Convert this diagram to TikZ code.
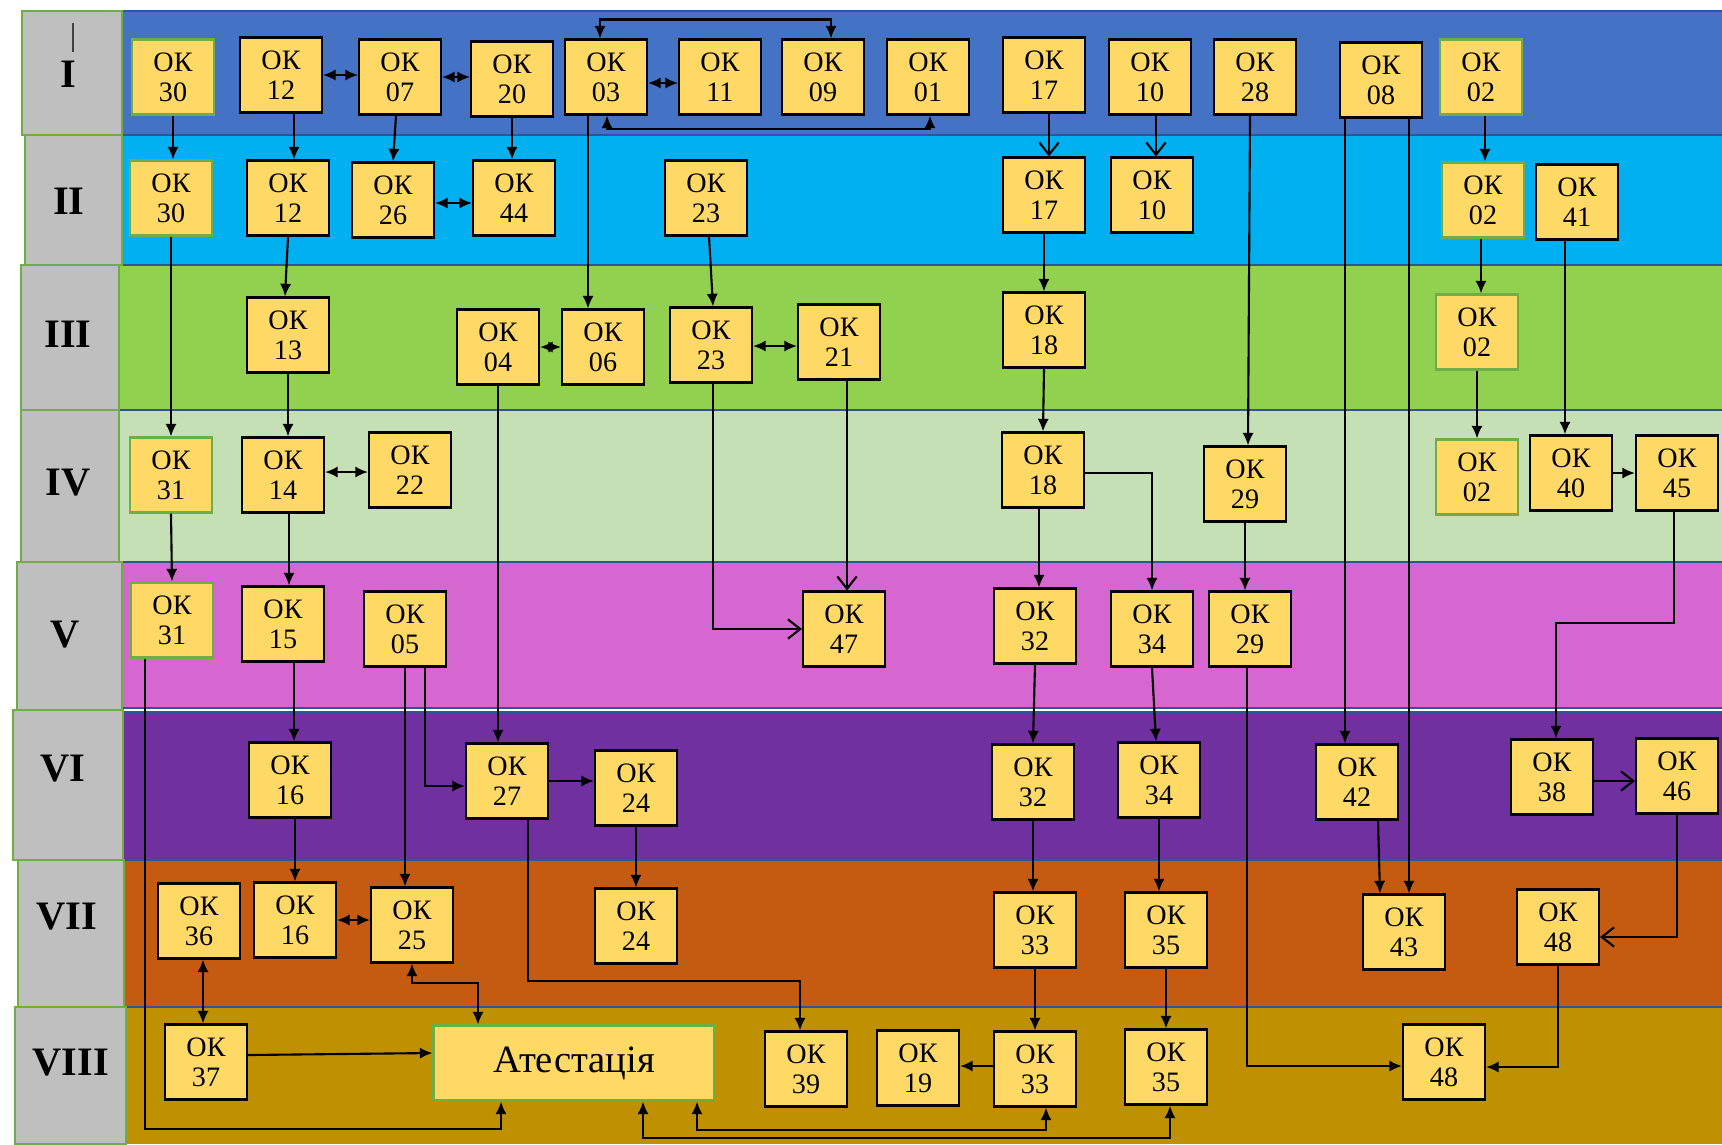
\documentclass[tikz,border=0pt]{standalone}
\usepackage{fontspec}
\setmainfont{Liberation Serif}
\usepackage{tikz}
\usetikzlibrary{arrows.meta,calc}
\definecolor{bandI}{HTML}{4472C4}
\definecolor{bandII}{HTML}{00B0F0}
\definecolor{bandIII}{HTML}{92D050}
\definecolor{bandIV}{HTML}{C5E0B4}
\definecolor{bandV}{HTML}{D666D0}
\definecolor{bandVI}{HTML}{7030A0}
\definecolor{bandVII}{HTML}{C55A11}
\definecolor{bandVIII}{HTML}{BF9000}
\definecolor{cellgray}{HTML}{BFBFBF}
\definecolor{okfill}{HTML}{FFD966}
\definecolor{okgreen}{HTML}{70AD47}
\definecolor{bandline}{HTML}{2F5597}
\tikzset{
  okbox/.style={draw=black, line width=0.6pt, fill=okfill, minimum width=8.2mm,
    minimum height=7.5mm, inner sep=0pt, align=center, font=\fontsize{8}{8.5}\selectfont},
  okgbox/.style={okbox, draw=okgreen},
  rowlbl/.style={font=\fontsize{11.5}{12}\selectfont\bfseries},
  con/.style={line width=0.6pt, -{Latex[length=3.6pt,width=3.2pt]}},
  dcon/.style={line width=0.6pt, {Latex[length=3.6pt,width=3.2pt]}-{Latex[length=3.6pt,width=3.2pt]}},
  ocon/.style={line width=0.6pt, -{Straight Barb[length=3.5pt,width=5.5pt]}}
}
\newcommand{\okrow}[2][okbox]{
  \foreach \nm/\x/\y/\lbl in {#2}{
    \node[#1] (\nm) at (\x,\y) {ОК\\\lbl};% one box per component
  }
}

\begin{document}
\begin{tikzpicture}[x=0.1mm,y=-0.1mm]
  \useasboundingbox (0,0) rectangle (1722,1144);
  \fill[white] (0,0) rectangle (1722,1144);

  % semester bands
  \foreach \tp/\bt/\cl in {11/135/bandI,135/265/bandII,265/410/bandIII,410/562/bandIV,
    562/710/bandV,710/860/bandVI,860/1007/bandVII,1007/1144/bandVIII}{
    \fill[\cl] (116,\tp) rectangle (1722,\bt);
  }
  \foreach \yy in {11,135,265,410,562,860,1007}{
    \draw[bandline,line width=0.5pt] (116,\yy) -- (1722,\yy);
  }
  \draw[bandline,line width=0.5pt] (116,708) -- (1722,708) (116,712) -- (1722,712);
  \draw[white,line width=0.8pt] (116,710) -- (1722,710);

  % grey column of semester numbers
  \foreach \tp/\bt/\lf/\rt in {11/135/22/122,135/265/25/122,265/410/21/119,410/562/21/119,
    562/710/17/122,710/860/13/123,860/1007/18/124,1007/1144/15/126}{
    \filldraw[fill=cellgray,draw=okgreen,line width=0.6pt] (\lf,\tp) rectangle (\rt,\bt);
  }
  \foreach \nm/\x/\y/\rn in {rI/68/74/I,rII/69/201/II,rIII/68/334/III,rIV/68/483/IV,
    rV/65/635/V,rVI/63/769/VI,rVII/67/917/VII,rVIII/71/1063/VIII}{
    \node[rowlbl] (\nm) at (\x,\y) {\rn};
  }
  \draw[black!75,line width=0.8pt] (73,23) -- (73,52);

  % components
  \okrow{a12/281/75/12,a07/400/77/07,a20/512/79/20,a03/606/77/03,a11/720/77/11,
    a09/823/77/09,a01/928/77/01,a17/1044/75/17,a10/1150/77/10,a28/1255/77/28,a08/1381/80/08}
  \okrow{b12/288/198/12,b26/393/200/26,b44/514/198/44,b23/706/198/23,b17/1044/195/17,
    b10/1152/195/10,b41/1577/202/41}
  \okrow{c13/288/335/13,c04/498/347/04,c06/603/347/06,c23/711/345/23,c21/839/342/21,
    c18/1044/330/18}
  \okrow{d14/283/475/14,d22/410/470/22,d18/1043/470/18,d29/1245/484/29,d40/1571/473/40,
    d45/1677/473/45}
  \okrow{e15/283/624/15,e05/405/629/05,e47/844/629/47,e32/1035/626/32,e34/1152/629/34,
    e29/1250/629/29}
  \okrow{f16/290/780/16,f27/507/781/27,f24/636/788/24,f32/1033/782/32,f34/1159/780/34,
    f42/1357/782/42,f38/1552/777/38,f46/1677/776/46}
  \okrow{g36/199/921/36,g16/295/920/16,g25/412/925/25,g24/636/926/24,g33/1035/930/33,
    g35/1166/930/35,g43/1404/932/43,g48/1558/927/48}
  \okrow{h37/206/1062/37,h39/806/1069/39,h19/918/1068/19,h33/1035/1069/33,h35/1166/1067/35,
    h48/1444/1062/48}
  \okrow[okgbox]{a30/173/77/30,a02/1481/77/02,b30/171/198/30,b02/1483/200/02,
    c02/1477/332/02,d31/171/475/31,d02/1477/477/02,e31/172/620/31}
  \node[okgbox,minimum width=28.1mm,font=\fontsize{11}{12}\selectfont] (att) at (574,1063) {Атестація};

  % semester I
  \draw[dcon] (a12.east) -- (a12.east -| a07.west);
  \draw[dcon] (a07.east) -- (a07.east -| a20.west);
  \draw[dcon] ([yshift=-0.6mm]a03.east) -- ([yshift=-0.6mm]a03.east -| a11.west);
  \draw[dcon] ([xshift=-0.6mm]a03.north) -- ++(0,-19) -| ([xshift=0.8mm]a09.north);
  \draw[dcon] ([xshift=0.1mm]a03.south) -- ++(0,13) -| ([xshift=0.2mm]a01.south);

  % semester I to II
  \draw[con] (a30.south) -- (a30.south |- b30.north);
  \draw[con] ([xshift=1.3mm]a12.south) -- ([xshift=1.3mm]a12.south |- b12.north);
  \draw[con] ([xshift=-0.4mm]a07.south) -- (b26.north);
  \draw[con] (a20.south) -- (a20.south |- b44.north);
  \draw[ocon] ([xshift=0.5mm]a17.south) -- ([xshift=0.5mm]a17.south |- b17.north);
  \draw[ocon] ([xshift=0.6mm]a10.south) -- ([xshift=0.6mm]a10.south |- b10.north);
  \draw[con] ([xshift=0.4mm]a02.south) -- ([xshift=0.4mm]a02.south |- b02.north);
  \draw[dcon] ([yshift=-0.3mm]b26.east) -- ([yshift=-0.3mm]b26.east -| b44.west);

  % long links from the first semesters
  \draw[con] ([xshift=-1.8mm]a03.south) -- ([xshift=-1.8mm]a03.south |- c06.north);
  \draw[con] ([xshift=0.3mm]b23.south) -- ([xshift=0.2mm]c23.north);
  \draw[con] (b17.south) -- (c18.north);
  \draw[con] (c18.south) -- (d18.north);
  \draw[con] ([xshift=-0.5mm]a28.south) -- ([xshift=0.3mm]d29.north);
  \draw[con] ([xshift=-3.6mm]a08.south) -- ([xshift=-3.6mm]a08.south |- f42.north);
  \draw[con] ([xshift=2.8mm]a08.south) -- ([xshift=2.8mm]a08.south |- g43.north);
  \draw[con] ([xshift=-0.2mm]b02.south) -- ([xshift=-0.2mm]b02.south |- c02.north);
  \draw[con] (c02.south) -- (c02.south |- d02.north);
  \draw[con] ([xshift=-1.2mm]b41.south) -- ([xshift=-1.2mm]b41.south |- d40.north);
  \draw[con] (d40.east) -- (d40.east -| d45.west);
  \draw[con] ([xshift=-0.3mm]d45.south) -- ++(0,111) -| ([xshift=0.4mm]f38.north);
  \draw[ocon] ([yshift=-0.4mm]f38.east) -- ([yshift=-0.4mm]f38.east -| f46.west);
  \draw[ocon] (f46.south) |- ([yshift=-1mm]g48.east);

  % semesters III and IV
  \draw[con] (b30.south) -- (b30.south |- d31.north);
  \draw[con] (b12.south) -- ([xshift=-0.3mm]c13.north);
  \draw[con] (c13.south) -- (c13.south |- d14.north);
  \draw[dcon] ([yshift=0.3mm]d14.east) -- ([yshift=0.3mm]d14.east -| d22.west);
  \draw[dcon] (c04.east) -- (c04.east -| c06.west);
  \draw[dcon] ([yshift=-0.1mm]c23.east) -- ([yshift=-0.1mm]c23.east -| c21.west);
  \draw[con] (c04.south) -- (c04.south |- f27.north);
  \draw[con] (d31.south) -- (e31.north);
  \draw[con] ([xshift=0.6mm]d14.south) -- ([xshift=0.6mm]d14.south |- e15.north);

  % semester V
  \draw[ocon] ([xshift=0.2mm]c23.south) |- (e47.west);
  \draw[ocon] ([xshift=0.8mm]c21.south) -- ([xshift=0.8mm]c21.south |- e47.north);
  \draw[con] ([xshift=-0.4mm]d18.south) -- ([xshift=-0.4mm]d18.south |- e32.north);
  \draw[con] ([yshift=-0.3mm]d18.east) -| (e34.north);
  \draw[con] (d29.south) -- (d29.south |- e29.north);
  \draw[con] ([xshift=-2.7mm]e31.south) -- ++(0,470) -| ([xshift=-7.3mm]att.south);
  \draw[con] ([xshift=1.1mm]e15.south) -- ([xshift=1.1mm]e15.south |- f16.north);
  \draw[con] (e05.south) -- (e05.south |- g25.north);
  \draw[con] ([xshift=2mm]e05.south) |- ([yshift=-0.5mm]f27.west);
  \draw[con] (e32.south) -- (f32.north);
  \draw[con] (e34.south) -- ([xshift=-0.3mm]f34.north);
  \draw[con] ([xshift=-0.3mm]e29.south) |- ([yshift=-0.4mm]h48.west);

  % semester VI
  \draw[con] (f27.east) -- (f27.east -| f24.west);
  \draw[con] ([xshift=2.1mm]f27.south) -- ++(0,161) -| ([xshift=-0.6mm]h39.north);
  \draw[con] ([xshift=0.5mm]f16.south) -- ([xshift=0.5mm]f16.south |- g16.north);
  \draw[con] (f24.south) -- (g24.north);
  \draw[con] (f32.south) -- (f32.south |- g33.north);
  \draw[con] (f34.south) -- (f34.south |- g35.north);
  \draw[con] ([xshift=2.1mm]f42.south) -- ([xshift=-2.4mm]g43.north);

  % semesters VII and VIII
  \draw[dcon] (g16.east) -- (g16.east -| g25.west);
  \draw[dcon] ([xshift=0.4mm]g36.south) -- ([xshift=0.4mm]g36.south |- h37.north);
  \draw[dcon] (g25.south) -- ++(0,19.5) -| ([xshift=-9.6mm]att.north);
  \draw[con] (g33.south) -- (h33.north);
  \draw[con] (g35.south) -- (h35.north);
  \draw[con] (g48.south) |- ([yshift=-0.5mm]h48.east);
  \draw[con] ([yshift=0.7mm]h37.east) -- ([yshift=1mm]att.west);
  \draw[con] ([yshift=0.3mm]h33.west) -- ([yshift=0.3mm]h33.west -| h19.east);
  \draw[dcon] ([xshift=12.3mm]att.south) -- ++(0,28) -| ([xshift=1.1mm]h33.south);
  \draw[dcon] ([xshift=6.9mm]att.south) -- ++(0,36) -| ([xshift=0.4mm]h35.south);
\end{tikzpicture}
\end{document}
